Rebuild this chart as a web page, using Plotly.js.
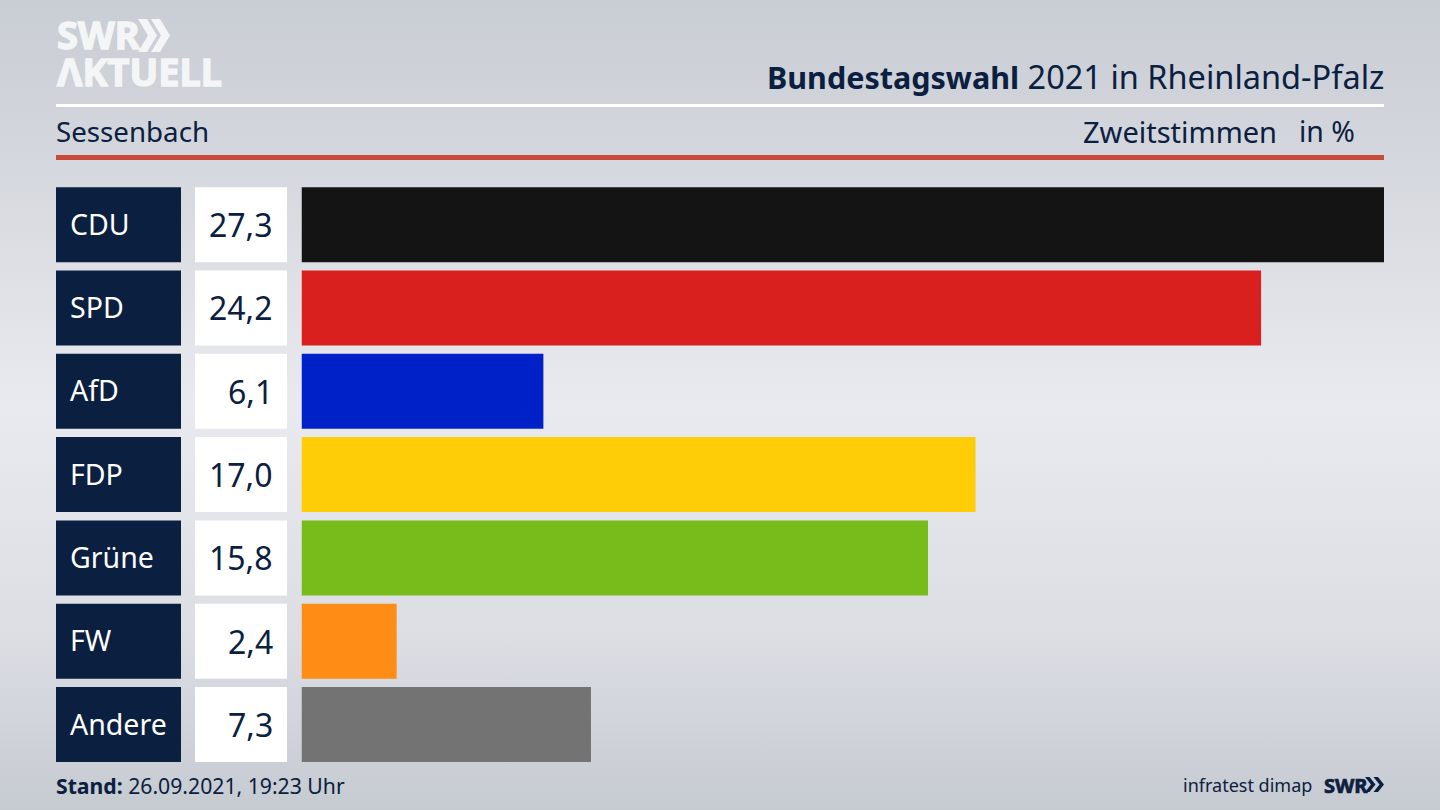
<!DOCTYPE html>
<html><head><meta charset="utf-8">
<script src="https://cdn.plot.ly/plotly-3.0.1.min.js"></script>
<style>
html,body{margin:0;padding:0;width:1440px;height:810px;overflow:hidden;
background:linear-gradient(180deg,#c9cdd4 0%,#d3d6dc 18%,#e9eaef 50%,#dcdee4 78%,#c6cad1 100%);}
#c{width:1440px;height:810px;}
</style></head><body><div id="c"></div>
<script>
const parties=["CDU","SPD","AfD","FDP","Grüne","FW","Andere"];
const values=[27.3,24.2,6.1,17.0,15.8,2.4,7.3];
const colors=["#141414","#da1f1f","#0020c8","#ffcc08","#78bc1b","#ff8c14","#737373"];
const titleBold="Bundestagswahl";
const titleRest=" 2021 in Rheinland-Pfalz";
const region="Sessenbach";
const voteType="Zweitstimmen";
const unit="in %";
const standLabel="Stand:";
const standValue=" 26.09.2021, 19:23 Uhr";
const source="infratest dimap";

const W=1440,H=810,NAVY="#0b2040",FONT="'Noto Sans',sans-serif",LOGO="#f4f5f7";
const px=x=>x/W, py=y=>1-y/H;
const fmt=v=>v.toFixed(1).replace(".",",");
const heavy=(s,color,sw)=>'<b><span style="stroke:'+color+';stroke-width:'+sw+'px">'+s+'</span></b>';
const txt=(x,y,text,size,color,anchor,extra)=>{const a=anchor||"left";
  return Object.assign({xref:"paper",yref:"paper",x:px(x),y:py(y),text,showarrow:false,
  xanchor:a,yanchor:"middle",xshift:a==="left"?-2:2,yshift:1,font:{family:FONT,size,color}},extra||{});};
const rect=(x0,x1,y0,y1,color,yref)=>({type:"rect",layer:"below",xref:"paper",yref:yref||"paper",x0:px(x0),x1:px(x1),
  y0:yref?y0:py(y0),y1:yref?y1:py(y1),fillcolor:color,line:{width:0}});
const chevron=(x,yTop,yBot,w,t,color)=>{const m=(yTop+yBot)/2;
  const P=(a,b)=>px(a).toFixed(5)+","+py(b).toFixed(5);
  return {type:"path",xref:"paper",yref:"paper",fillcolor:color,line:{width:0},
   path:"M"+P(x,yTop)+"L"+P(x+t,yTop)+"L"+P(x+t+w,m)+"L"+P(x+t,yBot)+"L"+P(x,yBot)+"L"+P(x+w,m)+"Z"};};

const shapes=[
  rect(56,1384,104,107,"#ffffff"),
  rect(56,1384,155,160,"#c84a3a"),
  chevron(138,19,52,10,9,LOGO),chevron(151,19,52,10,9,LOGO),
  chevron(1365,777,792,6,4.5,NAVY),chevron(1373.5,777,792,6,4.5,NAVY)
];
const annotations=[
  txt(57,35,heavy("SWR",LOGO,1.4),38,LOGO),
  txt(57,72,heavy("ΛKTUELL",LOGO,1.4),38,LOGO),
  txt(1384,77,'<span style="font-size:30.5px"><b>'+titleBold+'</b></span><span style="font-size:32.5px">'+titleRest+'</span>',32,NAVY,"right"),
  txt(56,132,region,27.7,NAVY),
  txt(1277,132,voteType,29,NAVY,"right"),
  txt(1355,132,unit,28.4,NAVY,"right"),
  txt(56,785,"<b>"+standLabel+"</b>"+standValue,21.2,NAVY,"left",{yshift:0}),
  txt(1312,785,source,18,NAVY,"right",{yshift:0}),
  txt(1324,785,heavy("SWR",NAVY,0.7),20,NAVY,"left",{yshift:0})
];
parties.forEach((p,i)=>{
  shapes.push(rect(56,181,i-0.45,i+0.45,NAVY,"y"));
  shapes.push(rect(195,287,i-0.45,i+0.45,"#ffffff","y"));
  annotations.push({xref:"paper",yref:"y",x:px(70),y:p,xshift:-2,yshift:1,text:p,showarrow:false,xanchor:"left",yanchor:"middle",
    font:{family:FONT,size:28.5,color:"#ffffff"}});
  annotations.push({xref:"paper",yref:"y",x:px(273),y:p,xshift:2,yshift:0,text:fmt(values[i]),showarrow:false,xanchor:"right",yanchor:"middle",
    font:{family:FONT,size:32,color:NAVY}});
});
Plotly.newPlot("c",[{type:"bar",orientation:"h",x:values,y:parties,width:0.9,
  marker:{color:colors,line:{width:0}},hoverinfo:"x+y"}],{
  width:W,height:H,margin:{l:0,r:0,t:0,b:0},paper_bgcolor:"rgba(0,0,0,0)",plot_bgcolor:"rgba(0,0,0,0)",
  showlegend:false,
  xaxis:{domain:[px(301.5),px(1384)],range:[0,27.3],visible:false,fixedrange:true},
  yaxis:{domain:[py(766.2),py(183)],type:"category",categoryorder:"array",categoryarray:parties,range:[6.5,-0.5],visible:false,fixedrange:true},
  shapes,annotations
},{displayModeBar:false,staticPlot:true});
</script></body></html>
